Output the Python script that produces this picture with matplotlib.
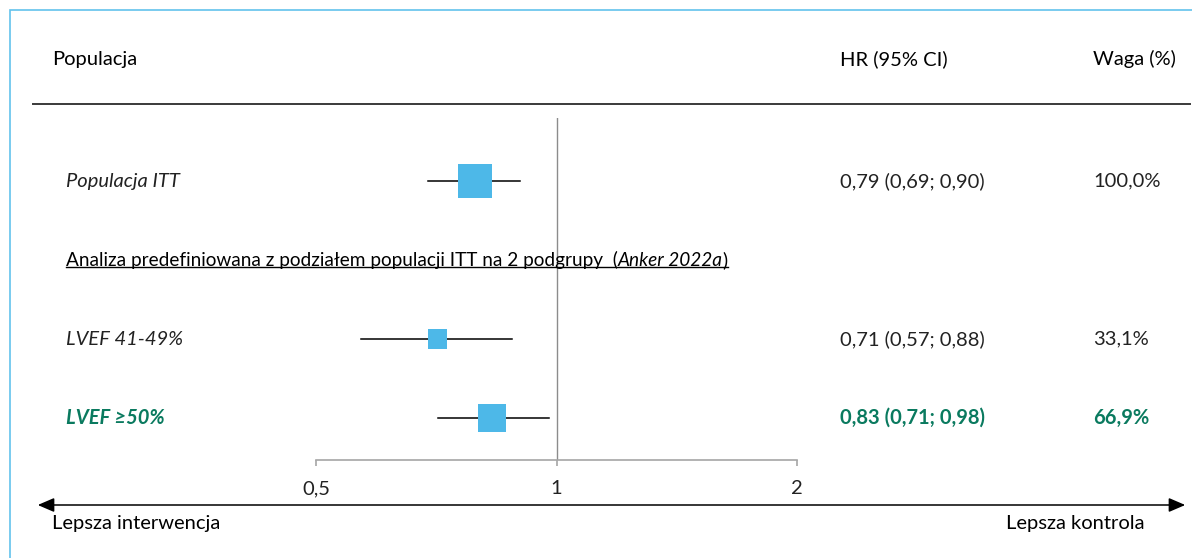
import matplotlib.pyplot as plt
import matplotlib.transforms as mtransforms
from matplotlib.patches import FancyArrowPatch, Rectangle
from matplotlib.lines import Line2D

plt.rcParams['font.family'] = ['Lato', 'DejaVu Sans']

# Forest plot data
labels = ['Populacja ITT', 'LVEF 41-49%', 'LVEF \u226550%']
hr = [0.79, 0.71, 0.83]
ci_low = [0.69, 0.57, 0.71]
ci_high = [0.90, 0.88, 0.98]
weights = [100.0, 33.1, 66.9]
hr_text = ['0,79 (0,69; 0,90)', '0,71 (0,57; 0,88)', '0,83 (0,71; 0,98)']
weight_text = ['100,0%', '33,1%', '66,9%']
row_pos = [0, 2, 3]
highlight = [False, False, True]
subgroup_title = 'Analiza predefiniowana z podziałem populacji ITT na 2 podgrupy  ('
subgroup_ref = 'Anker 2022a'
xticks = [0.5, 1, 2]
xtick_labels = ['0,5', '1', '2']

W, H = 1192, 558
BLUE = '#4db8e8'
GREEN = '#0a7a5f'
TXT = '#222222'
FS = 14.5

fig = plt.figure(figsize=(W / 100, H / 100), dpi=100)


def fx(x):
    return x / W


def fy(y):
    return 1 - y / H


# light blue frame
fig.patches.append(Rectangle((fx(10), fy(600)), 1.2, fy(10) - fy(600), transform=fig.transFigure,
                             fill=False, edgecolor='#62c2ec', lw=1.2))

# plot area: 0.5 .. 2 on a log scale
ax = fig.add_axes([fx(316), fy(460), fx(797) - fx(316), fy(118) - fy(460)])
ax.set_xscale('log', base=2)
ax.set_xlim(0.5, 2)
ax.set_ylim(3.53, -0.8)
for s in ['top', 'right', 'left']:
    ax.spines[s].set_visible(False)
ax.spines['bottom'].set_color('#a6a6a6')
ax.spines['bottom'].set_linewidth(1.2)
ax.set_yticks([])
ax.set_xticks(xticks)
ax.set_xticklabels(xtick_labels)
ax.xaxis.set_minor_locator(plt.NullLocator())
ax.tick_params(axis='x', direction='out', length=4.5, width=1.2, color='#a6a6a6',
               pad=10, labelsize=FS, labelcolor=TXT)
ax.patch.set_alpha(0)
ax.axvline(1, color='#8c8c8c', lw=1)

for i in range(len(labels)):
    y = row_pos[i]
    ax.plot([ci_low[i], ci_high[i]], [y, y], color='black', lw=1.1, clip_on=False, zorder=2)
    ax.scatter([hr[i]], [y], marker='s', s=24.5 ** 2 * weights[i] / 100, color=BLUE,
               edgecolors='none', clip_on=False, zorder=3)

# text columns
tr = mtransforms.blended_transform_factory(fig.transFigure, ax.transData)
for i in range(len(labels)):
    y = row_pos[i]
    col = GREEN if highlight[i] else TXT
    wt = 'bold' if highlight[i] else 'normal'
    ax.text(fx(66), y, labels[i], transform=tr, style='italic', fontsize=FS, color=col,
            weight=wt, va='center', ha='left', clip_on=False)
    ax.text(fx(840), y, hr_text[i], transform=tr, fontsize=FS, color=col,
            weight=wt, va='center', ha='left', clip_on=False)
    ax.text(fx(1093), y, weight_text[i], transform=tr, fontsize=FS, color=col,
            weight=wt, va='center', ha='left', clip_on=False)

# subgroup heading with italic reference and underline
HFS = 13.7
t1 = ax.text(fx(66), 1.0, subgroup_title, transform=tr, fontsize=HFS, color='black',
             va='center', ha='left', clip_on=False)
t2 = ax.annotate(subgroup_ref, xy=(1, 0), xycoords=t1, fontsize=HFS, style='italic',
                 color='black', va='bottom', ha='left')
t3 = ax.annotate(')', xy=(1, 0), xycoords=t2, fontsize=HFS, color='black',
                 va='bottom', ha='left')

# header
fig.text(fx(52), fy(59), 'Populacja', fontsize=FS, color='black', va='center')
fig.text(fx(840), fy(59), 'HR (95% CI)', fontsize=FS, color='black', va='center')
fig.text(fx(1093), fy(59), 'Waga (%)', fontsize=FS, color='black', va='center')
fig.lines.append(Line2D([fx(33), fx(1190)], [fy(104), fy(104)], transform=fig.transFigure,
                        color='#3a3a3a', lw=1.4))

# direction arrow
fig.patches.append(FancyArrowPatch((fx(35), fy(505)), (fx(1188), fy(505)), transform=fig.transFigure,
                                   arrowstyle='<|-|>,head_length=10,head_width=4.3',
                                   color='black', lw=1.1, mutation_scale=1))
fig.text(fx(52), fy(524), 'Lepsza interwencja', fontsize=FS, color='black', va='center')
fig.text(fx(1145), fy(524), 'Lepsza kontrola', fontsize=FS, color='black', va='center', ha='right')

# underline the heading
fig.canvas.draw()
r = fig.canvas.get_renderer()
b1 = t1.get_window_extent(r)
b3 = t3.get_window_extent(r)
uy = b1.y0 + 2
fig.lines.append(Line2D([b1.x0 / W, b3.x1 / W], [uy / H, uy / H], transform=fig.transFigure,
                        color='black', lw=1))

fig.savefig('out.png', dpi=100)
